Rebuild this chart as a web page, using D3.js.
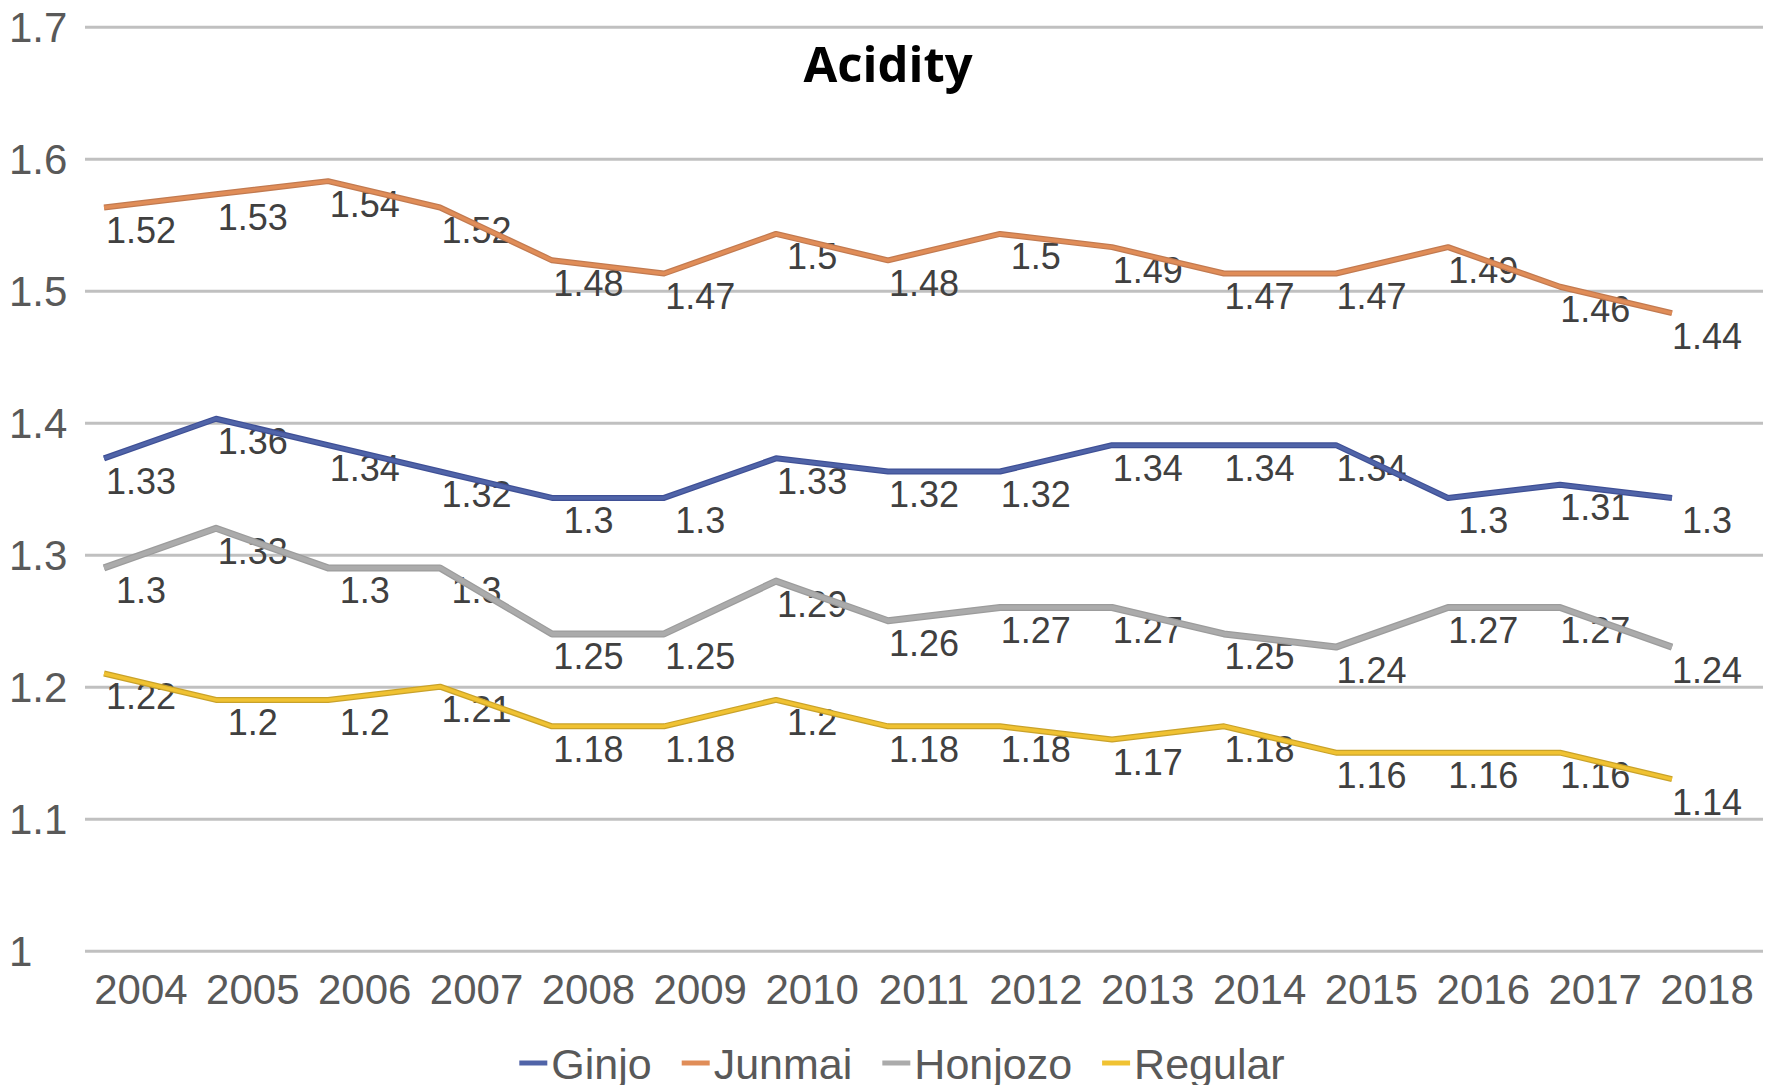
<!DOCTYPE html>
<html>
<head>
<meta charset="utf-8">
<script src="https://cdn.jsdelivr.net/npm/d3@7"></script>
<style>
  html, body { margin: 0; padding: 0; background: #ffffff; }
  svg { display: block; }
</style>
</head>
<body>
<svg id="chart" width="1771" height="1085"></svg>
<script>
// ---------------- data ----------------
const years = ["2004","2005","2006","2007","2008","2009","2010","2011","2012","2013","2014","2015","2016","2017","2018"];
const seriesNames = ["Ginjo","Junmai","Honjozo","Regular"];
const yTickValues = [1, 1.1, 1.2, 1.3, 1.4, 1.5, 1.6, 1.7];
const yTickLabels = ["1","1.1","1.2","1.3","1.4","1.5","1.6","1.7"];

// printed data labels
const ginjoLabels   = [1.33,1.36,1.34,1.32,1.3,1.3,1.33,1.32,1.32,1.34,1.34,1.34,1.3,1.31,1.3];
const junmaiLabels  = [1.52,1.53,1.54,1.52,1.48,1.47,1.5,1.48,1.5,1.49,1.47,1.47,1.49,1.46,1.44];
const honjozoLabels = [1.3,1.33,1.3,1.3,1.25,1.25,1.29,1.26,1.27,1.27,1.25,1.24,1.27,1.27,1.24];
const regularLabels = [1.22,1.2,1.2,1.21,1.18,1.18,1.2,1.18,1.18,1.17,1.18,1.16,1.16,1.16,1.14];

// line positions as plotted in the picture (read against the value axis)
const ginjoLine   = [1.373,1.403,1.383,1.363,1.343,1.343,1.373,1.363,1.363,1.383,1.383,1.383,1.343,1.353,1.343];
const junmaiLine  = [1.563,1.573,1.583,1.563,1.523,1.513,1.543,1.523,1.543,1.533,1.513,1.513,1.533,1.503,1.483];
const honjozoLine = [1.29,1.32,1.29,1.29,1.24,1.24,1.28,1.25,1.26,1.26,1.24,1.23,1.26,1.26,1.23];
const regularLine = [1.21,1.19,1.19,1.20,1.17,1.17,1.19,1.17,1.17,1.16,1.17,1.15,1.15,1.15,1.13];

const seriesColors = {
  Ginjo:   {outer:"#3f5096", inner:"#5064a8"},
  Junmai:  {outer:"#c27a50", inner:"#e08d58"},
  Honjozo: {outer:"#9c9c9c", inner:"#ababab"},
  Regular: {outer:"#c9a22a", inner:"#f0c232"}
};

const series = [
  {name:"Ginjo",   line: ginjoLine,   labels: ginjoLabels},
  {name:"Junmai",  line: junmaiLine,  labels: junmaiLabels},
  {name:"Honjozo", line: honjozoLine, labels: honjozoLabels},
  {name:"Regular", line: regularLine, labels: regularLabels}
];

// ---------------- layout ----------------
const svg = d3.select("#chart");
const plotLeft = 85, plotRight = 1763;
const yTop = 26.7, yBottom = 950.7;

const y = d3.scaleLinear().domain([1, 1.7]).range([yBottom, yTop]);
const xBand = d3.scaleBand().domain(years).range([plotLeft, plotRight]);
const xLine = d3.scalePoint().domain(years).range([104, 1672]);

const axisFont = "'Liberation Sans', Arial, sans-serif";

// gridlines + y labels
const yAxis = d3.axisLeft(y)
  .tickValues(yTickValues)
  .tickFormat((d, i) => yTickLabels[i])
  .tickSize(-(plotRight - plotLeft));
const gy = svg.append("g").attr("transform", `translate(${plotLeft},0)`).call(yAxis);
gy.select(".domain").remove();
gy.selectAll(".tick line").attr("stroke", "#c0c0c0").attr("stroke-width", 3);
gy.selectAll(".tick text")
  .attr("x", 9 - plotLeft)
  .attr("dy", "0.36em")
  .attr("text-anchor", "start")
  .attr("fill", "#595959")
  .style("font-family", axisFont)
  .style("font-size", "42px");

// x axis labels
const xAxis = d3.axisBottom(xBand).tickSize(0).tickPadding(0);
const gx = svg.append("g").attr("transform", `translate(0,${yBottom})`).call(xAxis);
gx.select(".domain").remove();
gx.selectAll(".tick text")
  .attr("y", 53)
  .attr("dy", 0)
  .attr("fill", "#595959")
  .style("font-family", axisFont)
  .style("font-size", "42px");

// data labels (drawn below the lines)
const labelLayer = svg.append("g");
series.forEach(s => {
  labelLayer.selectAll(null)
    .data(years)
    .enter()
    .append("text")
    .attr("x", d => xBand(d) + xBand.bandwidth() / 2)
    .attr("y", (d, i) => y(s.line[i]) + 35.5)
    .attr("text-anchor", "middle")
    .attr("fill", "#404040")
    .style("font-family", axisFont)
    .style("font-size", "36px")
    .text((d, i) => String(s.labels[i]));
});

// lines
const lineGen = d3.line().x(d => xLine(d.year)).y(d => y(d.v));
const lineLayer = svg.append("g");
series.forEach(s => {
  const pts = years.map((yr, i) => ({year: yr, v: s.line[i]}));
  const c = seriesColors[s.name];
  lineLayer.append("path").datum(pts)
    .attr("d", lineGen).attr("fill", "none")
    .attr("stroke", c.outer).attr("stroke-width", s.name === "Honjozo" ? 7 : 6)
    .attr("stroke-linejoin", "round");
  lineLayer.append("path").datum(pts)
    .attr("d", lineGen).attr("fill", "none")
    .attr("stroke", c.inner).attr("stroke-width", s.name === "Honjozo" ? 4.5 : 3.5)
    .attr("stroke-linejoin", "round");
});

// title
svg.append("text")
  .attr("x", 888).attr("y", 82)
  .attr("text-anchor", "middle")
  .attr("fill", "#000000")
  .style("font-family", "'Open Sans', sans-serif")
  .style("font-weight", "700")
  .style("font-size", "49px")
  .text("Acidity");

// legend
const legend = svg.append("g");
let lx = 0;
seriesNames.forEach(name => {
  const g = legend.append("g");
  g.append("line")
    .attr("x1", 0).attr("x2", 28).attr("y1", 1063).attr("y2", 1063)
    .attr("stroke", seriesColors[name].inner).attr("stroke-width", 5);
  const t = g.append("text")
    .attr("x", 32).attr("y", 1079)
    .attr("fill", "#595959")
    .style("font-family", axisFont)
    .style("font-size", "43px")
    .text(name);
  const w = 32 + t.node().getComputedTextLength();
  g.attr("transform", `translate(${lx},0)`);
  lx += w + 30;
});
const totalW = lx - 30;
legend.attr("transform", `translate(${902 - totalW / 2},0)`);
</script>
</body>
</html>
